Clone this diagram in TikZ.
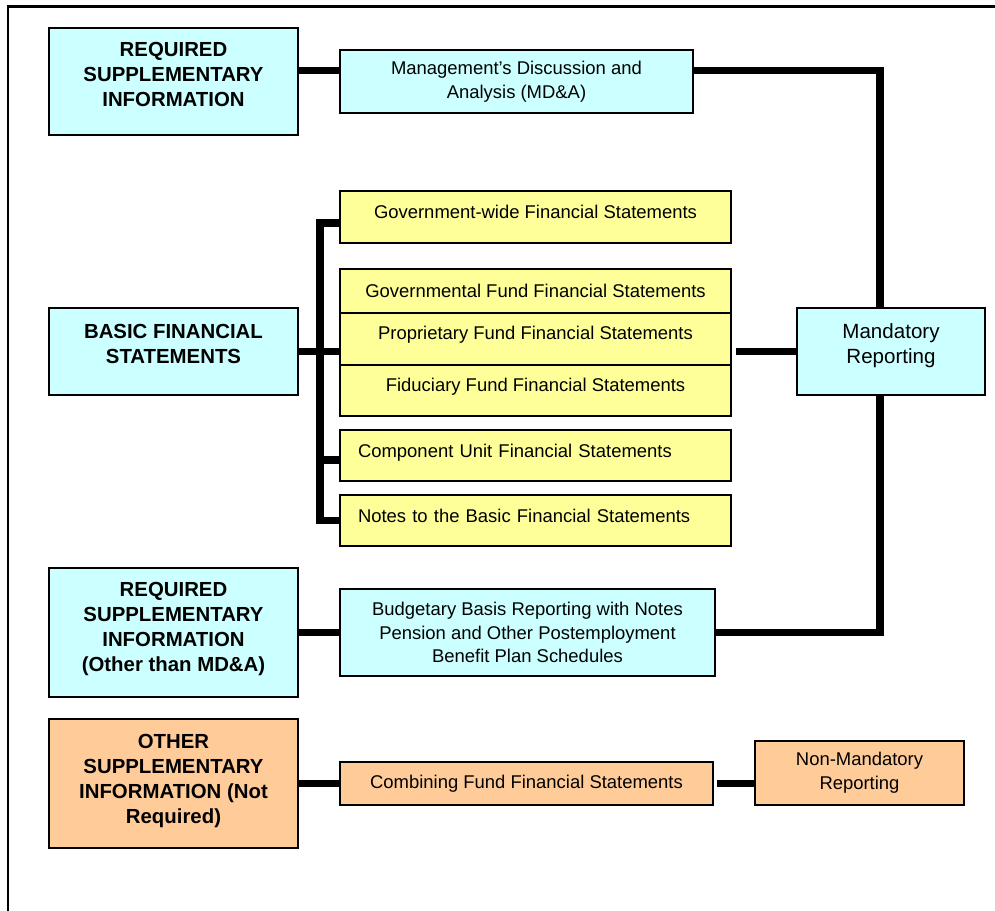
\documentclass[tikz,border=0pt]{standalone}
\usepackage{fontspec}
\setmainfont{Liberation Sans}
\usetikzlibrary{positioning,calc}
\definecolor{reqcyan}{HTML}{CCFFFF}
\definecolor{basicyellow}{HTML}{FFFF99}
\definecolor{otherorange}{HTML}{FFCC99}

\begin{document}
\begin{tikzpicture}[
    x=0.02cm, y=-0.02cm,
    box/.style={rectangle, draw, line width=0.8pt, inner sep=1pt, align=center, font=\fontsize{10.5}{13.4}\selectfont},
    head/.style={box, minimum width=4.98cm, font=\bfseries\fontsize{11.6}{14.2}\selectfont},
    stmt/.style={box, fill=basicyellow, minimum width=7.82cm},
    leftstmt/.style={stmt, align=left, text width=7.1cm, inner xsep=0.36cm},
    lift/.style={execute at end node={\rule[-#1]{0pt}{0pt}}},
    link/.style={line width=4pt},
    frame/.style={line width=1.7pt}
]
\useasboundingbox (0,0) rectangle (995,911);
\draw[frame] (8,911) -- (8,7) -- (995,7);

% Nodes
\node[head, fill=reqcyan, minimum height=2.14cm, lift=0.28cm] (rsi1) at (173.5,81.5) {REQUIRED\\SUPPLEMENTARY\\INFORMATION};
\node[box, fill=reqcyan, minimum width=7.06cm, minimum height=1.26cm] (mda) at (516.5,81.5) {Management’s Discussion and\\Analysis (MD\&A)};

\node[head, fill=reqcyan, minimum height=1.74cm, lift=0.3cm] (bfs) at (173.5,351.5) {BASIC FINANCIAL\\STATEMENTS};
\node[stmt, minimum height=1.04cm, lift=0.2cm] (gw) at (535.5,217) {Government-wide Financial Statements};
\node[stmt, minimum height=0.88cm] (govf) at (535.5,291) {Governmental Fund Financial Statements};
\node[stmt, minimum height=1.04cm, lift=0.24cm] (prop) at (535.5,339) {Proprietary Fund Financial Statements};
\node[stmt, minimum height=1.02cm, lift=0.24cm] (fid) at (535.5,390.5) {Fiduciary Fund Financial Statements};
\node[leftstmt, minimum height=1.02cm, lift=0.2cm] (comp) at (535.5,455.5) {Component Unit Financial Statements};
\node[leftstmt, minimum height=1.02cm, lift=0.2cm] (notes) at (535.5,520.5) {Notes to the Basic Financial Statements};
\node[box, fill=reqcyan, minimum width=3.76cm, minimum height=1.74cm, lift=0.33cm, font=\fontsize{11.7}{14.2}\selectfont] (mand) at (891,351.5) {Mandatory\\Reporting};

\node[head, fill=reqcyan, minimum height=2.58cm, lift=0.21cm] (rsi2) at (173.5,632.5) {REQUIRED\\SUPPLEMENTARY\\INFORMATION\\(Other than MD\&A)};
\node[box, fill=reqcyan, minimum width=7.5cm, minimum height=1.74cm] (bud) at (527.5,632.5) {Budgetary Basis Reporting with Notes\\Pension and Other Postemployment\\Benefit Plan Schedules};

\node[head, fill=otherorange, minimum height=2.58cm, lift=0.19cm] (osi) at (173.5,783.5) {OTHER\\SUPPLEMENTARY\\INFORMATION (Not\\Required)};
\node[box, fill=otherorange, minimum width=7.46cm, minimum height=0.86cm] (comb) at (526.5,783.5) {Combining Fund Financial Statements};
\node[box, fill=otherorange, minimum width=4.18cm, minimum height=1.28cm] (nonm) at (859.5,773) {Non-Mandatory\\Reporting};

% Connectors
\coordinate (lbus) at (320,0);
\coordinate (rbus) at (880,0);
\draw[link] ($(rsi1.east)+(0,-11)$) -- ($(mda.west)+(0,-11)$);
\draw[link] ($(mda.east)+(0,-11)$) -| (rbus |- mand.north);
\draw[link] (mand.south -| rbus) |- (bud.east);
\draw[link] (bfs.east) -- (prop.west |- bfs.east);
\draw[link] ($(gw.west)+(0,6)$) -| (lbus |- notes.west) -- (notes.west);
\draw[link] ($(lbus |- comp.west)+(0,4.5)$) -- ($(comp.west)+(0,4.5)$);
\draw[link, shorten >=0.08cm] (mand.west) -- (mand.west -| prop.east);
\draw[link] (rsi2.east) -- (bud.west);
\draw[link] (osi.east) -- (comb.west);
\draw[link, shorten <=0.06cm] (comb.east) -- (nonm.west |- comb.east);
\end{tikzpicture}
\end{document}
